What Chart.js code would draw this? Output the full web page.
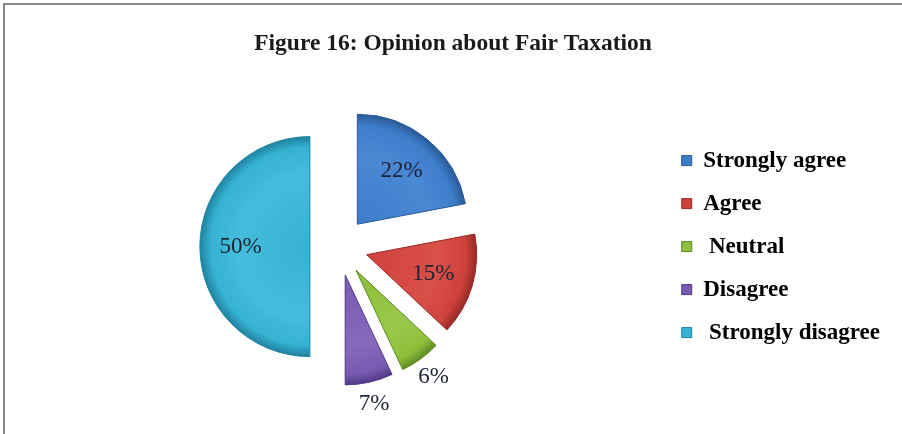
<!DOCTYPE html>
<html>
<head>
<meta charset="utf-8">
<title>Figure 16</title>
<script src="https://cdn.jsdelivr.net/npm/chart.js@4.4.1/dist/chart.umd.min.js"></script>
<style>
  body { margin: 0; background: #fff; }
  #frame {
    position: absolute; left: 3px; top: 3px; right: 0; bottom: 0;
    border-top: 2px solid #8a8a8a; border-left: 2px solid #8a8a8a;
  }
  #box { position: absolute; left: 0; top: 0; width: 902px; height: 434px; }
</style>
</head>
<body>
<div id="frame"></div>
<div id="box"><canvas id="taxChart"></canvas></div>
<script>
// survey answers and their share in percent
const answers = ['Strongly agree', 'Agree', ' Neutral', 'Disagree', ' Strongly disagree'];
const shares = [22, 15, 6, 7, 50];

const sliceColors = ['#3e7dca', '#cf423c', '#8dbf3b', '#7a5ab2', '#36b2d2'];
const rimColors = ['#2a5a98', '#962a27', '#5e8923', '#513b85', '#1f83a0'];
const lightColors = ['#4a88d4', '#d95049', '#98c94a', '#8668bd', '#45bcdb'];

const serif = '"Liberation Serif", "DejaVu Serif", serif';
const pieRadius = 110;
const explode = 116; // chart.js moves a slice by offset / 4

// bevelled look: flat body, darker rim
function sliceFill(ctx) {
  const chart = ctx.chart;
  const area = chart.chartArea;
  const i = ctx.dataIndex;
  if (!area || i === undefined) return sliceColors[i] || '#888';
  const cx = (area.left + area.right) / 2;
  const cy = (area.top + area.bottom) / 2;
  const g = chart.ctx.createRadialGradient(cx, cy, 0, cx, cy, pieRadius);
  g.addColorStop(0, sliceColors[i]);
  g.addColorStop(0.65, lightColors[i]);
  g.addColorStop(0.9, sliceColors[i]);
  g.addColorStop(1, rimColors[i]);
  return g;
}

// the arc element grows narrow slices when offset; undo that so every slice keeps the same radius and angle
const evenSlices = {
  id: 'evenSlices',
  afterDatasetsUpdate(chart) {
    chart.getDatasetMeta(0).data.forEach(function (arc) {
      const shift = arc.options.offset / 4;
      const grow = shift * (1 - Math.sin(Math.min(Math.PI, arc.circumference)));
      const trim = grow / Math.PI / pieRadius / 2;
      arc.outerRadius = pieRadius - grow;
      arc.startAngle -= trim;
      arc.endAngle += trim;
    });
  }
};

// percent labels, small slices get theirs outside
const pctLabels = {
  id: 'pctLabels',
  afterDatasetsDraw(chart) {
    const ctx = chart.ctx;
    const meta = chart.getDatasetMeta(0);
    ctx.save();
    ctx.font = '23px ' + serif;
    ctx.fillStyle = '#1d2436';
    ctx.textAlign = 'center';
    ctx.textBaseline = 'middle';
    meta.data.forEach(function (arc, i) {
      const p = arc.getProps(['x', 'y', 'startAngle', 'endAngle'], true);
      const shift = arc.options.offset / 4;
      const mid = (p.startAngle + p.endAngle) / 2;
      const r = shares[i] < 10 ? pieRadius * 1.2 : pieRadius * 0.63;
      ctx.fillText(shares[i] + '%', p.x + Math.cos(mid) * (shift + r), p.y + Math.sin(mid) * (shift + r));
    });
    ctx.restore();
  }
};

new Chart(document.getElementById('taxChart'), {
  type: 'pie',
  data: {
    labels: answers,
    datasets: [{
      data: shares,
      backgroundColor: sliceFill,
      borderColor: rimColors,
      borderWidth: 1,
      offset: explode,
      radius: pieRadius
    }]
  },
  options: {
    responsive: true,
    maintainAspectRatio: false,
    animation: false,
    layout: { padding: { left: 16, right: 12, top: 12, bottom: 14 } },
    plugins: {
      tooltip: { enabled: false },
      title: {
        display: true,
        text: 'Figure 16: Opinion about Fair Taxation',
        color: '#1a1a1a',
        font: { family: serif, size: 23.5, weight: 'bold' },
        padding: { top: 18, bottom: 15 }
      },
      legend: {
        position: 'right',
        fullSize: false,
        labels: {
          color: '#111',
          font: { family: serif, size: 23, weight: 'bold' },
          boxWidth: 10,
          boxHeight: 10,
          padding: 20,
          generateLabels(chart) {
            return chart.data.labels.map(function (text, i) {
              return {
                text: text,
                fillStyle: sliceColors[i],
                strokeStyle: rimColors[i],
                lineWidth: 1,
                hidden: false,
                index: i
              };
            });
          }
        }
      }
    }
  },
  plugins: [evenSlices, pctLabels]
});
</script>
</body>
</html>
